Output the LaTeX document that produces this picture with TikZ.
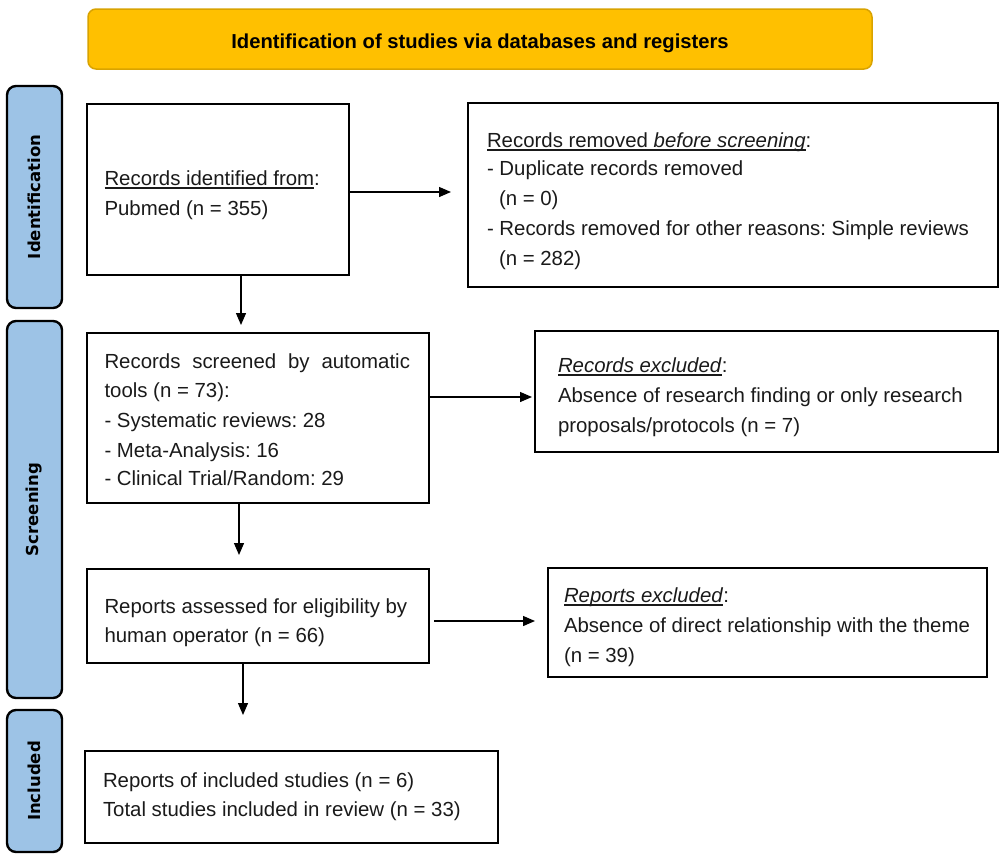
\documentclass[tikz,border=0pt]{standalone}
\usepackage{fontspec}
\setmainfont{Liberation Sans}
\newfontfamily\lblfont{DejaVu Sans}
\usetikzlibrary{arrows.meta}
\frenchspacing
\definecolor{bannerfill}{HTML}{FFC000}
\definecolor{bannerline}{HTML}{D9A300}
\definecolor{lblfill}{HTML}{9DC3E6}
\definecolor{txt}{HTML}{1A1A1A}
\newcommand\myul[1]{\setbox0\hbox{#1}\rlap{\rule[-3.6pt]{\wd0}{1.3pt}}\box0}
\tikzset{
  box/.style={draw=black, line width=2pt, inner sep=0pt, outer sep=0pt},
  lbl/.style={draw=black, fill=lblfill, line width=2.4pt, rounded corners=9pt, inner sep=0pt, outer sep=0pt},
  banner/.style={draw=bannerline, fill=bannerfill, line width=1.5pt, rounded corners=8pt, inner sep=0pt, outer sep=0pt},
  ln/.style={anchor=base west, inner sep=0pt, outer sep=0pt, text=txt, font=\fontsize{20.4}{24}\selectfont},
  lbltext/.style={rotate=90, inner sep=0pt, font=\lblfont\bfseries\fontsize{16.5}{18}\selectfont},
  arr/.style={line width=1.3pt, -{Triangle[length=12pt,width=10pt]}}
}
\begin{document}
\begin{tikzpicture}[x=1pt,y=-1pt]
\useasboundingbox (0,0) rectangle (1000,862);
% banner
\node[banner, minimum width=784pt, minimum height=60pt] (ban) at (480,39) {};
\node[anchor=base, inner sep=0pt, font=\bfseries\fontsize{20.2}{24}\selectfont] (bant) at (480,48.7) {Identification of studies via databases and registers};
% side labels
\node[lbl, minimum width=55pt, minimum height=222pt] (L1) at (34.5,197) {};
\node[lbl, minimum width=55pt, minimum height=377pt] (L2) at (34.5,509.5) {};
\node[lbl, minimum width=55pt, minimum height=142pt] (L3) at (34.5,781) {};
\node[lbltext] (L1t) at (L1) {Identification};
\node[lbltext] (L2t) at (L2) {Screening};
\node[lbltext] (L3t) at (L3) {Included};
% boxes
\node[box, minimum width=262pt, minimum height=171pt] (b1) at (218,189.5) {};
\node[box, minimum width=530pt, minimum height=184pt] (b2) at (733,195) {};
\node[box, minimum width=342pt, minimum height=170pt] (b3) at (258,418) {};
\node[box, minimum width=463pt, minimum height=121pt] (b4) at (766.5,391.5) {};
\node[box, minimum width=342pt, minimum height=94pt] (b5) at (258,616) {};
\node[box, minimum width=439pt, minimum height=109pt] (b6) at (767.5,622.5) {};
\node[box, minimum width=413pt, minimum height=92pt] (b7) at (291.5,797) {};
% box 1 text
\node[ln] (t11) at (104.5,185) {\myul{Records identified from}:};
\node[ln] (t12) at (104.5,215) {Pubmed (n = 355)};
% box 2 text
\node[ln] (t21) at (487,147) {\myul{Records removed \textit{before screening}}:};
\node[ln] (t22) at (487,175) {- Duplicate records removed};
\node[ln] (t23) at (499,205) {(n = 0)};
\node[ln] (t24) at (487,235) {- Records removed for other reasons: Simple reviews};
\node[ln] (t25) at (499,265) {(n = 282)};
% box 3 text
\node[ln] (t31) at (104.5,368) {\makebox[305.5pt][s]{Records screened by automatic}};
\node[ln] (t32) at (104.5,397) {tools (n = 73):};
\node[ln] (t33) at (104.5,427) {- Systematic reviews: 28};
\node[ln] (t34) at (104.5,457) {- Meta-Analysis: 16};
\node[ln] (t35) at (104.5,485) {- Clinical Trial/Random: 29};
% box 4 text
\node[ln] (t41) at (558,372) {\myul{\textit{Records excluded}}:};
\node[ln] (t42) at (558,402) {Absence of research finding or only research};
\node[ln] (t43) at (558,432) {proposals/protocols (n = 7)};
% box 5 text
\node[ln] (t51) at (104.5,613) {Reports assessed for eligibility by};
\node[ln] (t52) at (104.5,642) {human operator (n = 66)};
% box 6 text
\node[ln] (t61) at (564,602) {\myul{\textit{Reports excluded}}:};
\node[ln] (t62) at (564,632) {Absence of direct relationship with the theme};
\node[ln] (t63) at (564,662) {(n = 39)};
% box 7 text
\node[ln] (t71) at (103,787) {Reports of included studies (n = 6)};
\node[ln] (t72) at (103,816) {Total studies included in review (n = 33)};
% arrow end points
\coordinate (a1) at (451,192);
\coordinate (a2) at (532,397);
\coordinate (a3) at (535,621);
\coordinate (d1) at (241,325);
\coordinate (d2) at (239,555);
\coordinate (d3) at (243,715);
% connectors
\draw[arr] (b1.east |- a1) -- (a1);
\draw[arr] (b3.east |- a2) -- (a2);
\draw[arr] ([xshift=5pt]b5.east |- a3) -- (a3);
\draw[arr] (b1.south -| d1) -- (d1);
\draw[arr] (b3.south -| d2) -- (d2);
\draw[arr] (b5.south -| d3) -- (d3);
\end{tikzpicture}
\end{document}
